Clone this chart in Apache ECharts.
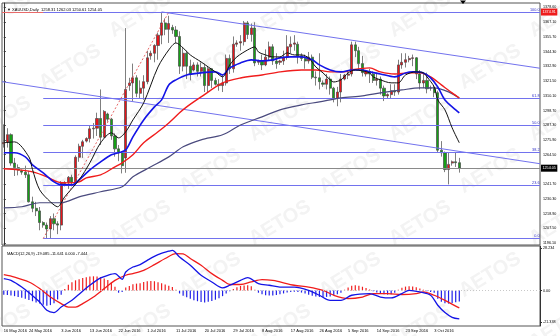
<!DOCTYPE html>
<html><head><meta charset="utf-8">
<script src="https://cdn.jsdelivr.net/npm/echarts@6/dist/echarts.min.js"></script>
<style>html,body{margin:0;padding:0;background:#fff}#c{width:560px;height:336px}</style>
</head><body><div id="c"></div>
<script>
// ---------- DATA ----------
// daily bars (incl. Sunday bars) from 16 May 2016 to 11 Oct 2016: [open, high, low, close]
const ohlc = [
[1273,1288,1270,1274],[1274,1285,1270,1280],[1280,1281,1256,1258],[1258,1262,1248,1254.5],[1254.5,1257,1248.5,1252.5],
[1252,1253,1249,1251],[1251,1256,1246.5,1249],[1249,1252,1227.5,1228],[1228,1232,1220,1223],[1223,1228,1217,1221],[1221,1224,1206,1212],
[1212,1213,1208,1210],[1210,1212,1199.6,1207],[1207,1217,1200,1215],[1215,1219,1206,1211],[1211,1213,1203,1210],[1210,1244,1206,1242.5],
[1242,1244,1240,1243],[1243,1248,1238,1247],[1247,1249,1240,1243],[1243,1264,1242,1262.5],[1262.5,1273,1259,1271],[1271,1276,1262,1274.5],
[1275,1278,1274,1277],[1277,1287,1274,1284.5],[1284.5,1289,1277,1285],[1285,1297,1279,1292.5],[1292.5,1315,1272,1278],[1278,1299,1278,1298],
[1296,1297,1290,1292],[1292,1293,1276,1279],[1279,1281,1263,1269],[1269,1272,1259.5,1266],[1266,1267,1250,1256],[1262,1362.5,1250.5,1315],
[1318,1324,1314,1320],[1320,1335,1306,1324],[1324,1326,1309,1312],[1312,1322,1308,1316],[1316,1326,1307,1321],[1321,1345,1319,1339.5],
[1341,1345,1338,1343],[1343,1350,1336,1349],[1349,1359,1338,1357],[1357,1374.9,1350,1366.5],[1366.5,1370,1357,1361.5],[1361.5,1372,1351,1366],
[1363,1365,1358,1361],[1361,1364,1351,1356],[1356,1360,1327,1333],[1333,1347,1329,1343],[1343,1345,1323,1333],[1333,1338,1322,1327],
[1330,1336,1329,1334],[1334,1336,1325,1329],[1329,1336,1325,1332],[1332,1335,1313,1318],[1318,1333,1313,1331],[1331,1331,1316,1322],
[1322,1324,1318,1319],[1319,1323,1314,1318],[1318,1327,1313,1320],[1320,1342,1318,1339],[1339,1342,1327,1331],[1331,1356,1328,1350],
[1350,1353,1348,1351],[1351,1357,1345,1352],[1352,1368,1349,1366.5],[1366.5,1368,1354,1357.5],[1357.5,1366,1352,1362.5],[1362.5,1367,1333,1335.5],
[1336,1338,1334,1337],[1337,1342,1330,1334],[1334,1346,1333,1340],[1340,1352,1337,1348],[1348,1350,1334,1337],[1337,1343,1331,1335],
[1336,1338,1334,1337],[1337,1345,1334,1340],[1340,1357,1338,1348],[1348,1356,1343,1350],[1350,1357,1345,1351],[1350,1352,1335,1341],
[1341,1343,1337,1339],[1339,1342,1331,1337],[1337,1344,1335,1340],[1340,1342,1323,1324.5],[1324.5,1329,1318,1324],[1324,1343,1315,1321],
[1320,1322,1317,1319],[1319,1327,1315,1323],[1323,1325,1311,1316],[1316,1317,1305,1308],[1308,1317,1302,1313],[1313,1327,1305,1323],
[1323,1327,1322,1326],[1326,1330,1323,1327],[1327,1352,1325,1349.5],[1349.5,1352,1340,1345],[1345,1348,1330,1335],[1335,1341,1325,1328],
[1327,1330,1325,1329],[1329,1331,1320,1327],[1327,1329,1320,1322],[1322,1328,1318,1323],[1323,1325,1311,1316],[1316,1318,1306,1310],
[1310,1312,1308,1311],[1311,1319,1308,1314],[1314,1319,1310,1313],[1313,1338,1311,1334],[1334,1343,1331,1336],[1336,1343,1332,1338],
[1338,1341,1336,1339],[1339,1342,1333,1339.5],[1339.5,1340,1323,1327],[1327,1330,1315,1320],[1320,1328,1316,1322],[1322,1328,1312,1315.5],
[1316,1318,1314,1316],[1316,1318,1309,1312.5],[1312.5,1314,1266,1268],[1268,1275,1263,1266],[1266,1267,1251,1253],[1253,1266,1241.5,1257],
[1258,1260,1256,1259],[1259,1266,1255,1258.3],[1258.31,1262.03,1250.61,1254.05]
];
// moving averages: [barIndex, price]
const maBlack = [[0,1273.7],[3,1274.4],[7,1262.8],[8,1253],[10,1237.3],[13,1228],[15,1224.2],[17,1231.9],[21,1245],[24,1258.2],[27,1273.7],[30,1281.4],[32,1277.5],[34,1282.2],[36,1291.4],[39,1304.6],[43,1332.4],[46,1345.6],[48,1351],[50,1347.1],[52,1341.7],[55,1336.3],[57,1332.4],[59,1328.6],[61,1324.7],[63,1334],[65,1340.2],[68,1345.6],[70,1347.9],[71,1344],[73,1341.7],[75,1340.2],[77,1340.2],[79,1343.3],[81,1341.7],[83,1341.7],[85,1339.4],[87,1332.4],[89,1327.8],[91,1322.4],[92,1320.8],[94,1322.4],[96,1327.8],[98,1330.1],[100,1329.3],[102,1327.8],[103,1324.7],[105,1322.4],[108,1320.1],[110,1320.1],[112,1326.2],[115,1328.6],[117,1327.8],[118,1324.7],[120,1317],[121,1306.9],[123,1299.2],[125,1285.3],[127,1273.7]];
const maBlue = [[0,1266],[3,1266],[6,1262.8],[8,1256.6],[11,1250.4],[14,1243.4],[16,1241.1],[19,1241.1],[21,1245],[24,1252.8],[27,1259],[30,1264.4],[32,1266],[34,1268.2],[36,1278.3],[39,1291.4],[42,1301.5],[44,1306.9],[46,1318.5],[48,1322.4],[51,1326.2],[55,1327.8],[59,1328.6],[61,1326.2],[63,1331.7],[66,1335.5],[69,1337.9],[72,1337.1],[75,1337.9],[77,1339.4],[80,1340.2],[83,1340.2],[86,1337.9],[88,1334],[91,1330.1],[94,1328.6],[97,1330.1],[100,1330.1],[102,1328.6],[105,1327],[109,1324.7],[112,1327.8],[114,1328.6],[117,1327.8],[119,1323.9],[121,1316.9],[123,1306.9],[126,1299.2],[127,1296.8]];
const maRed = [[0,1253.6],[4,1252.8],[8,1251.2],[12,1247.4],[15,1243.4],[18,1242.7],[21,1243.4],[23,1246.6],[27,1248.9],[31,1255.1],[33,1258.2],[36,1264.4],[39,1273.7],[43,1282.2],[46,1289.1],[49,1296.9],[51,1301.5],[55,1309.2],[61,1320.1],[66,1323.9],[72,1326.2],[77,1328.6],[83,1330.1],[87,1330.1],[91,1328.6],[95,1328.6],[97,1330.1],[102,1331.7],[105,1328.6],[109,1327],[113,1327.8],[116,1327.8],[119,1324.7],[122,1318.5],[125,1312.3],[127,1308.4]];
const maNavy = [[0,1223.4],[5,1224.2],[10,1227.3],[16,1227.3],[21,1231.9],[27,1235.8],[33,1239.7],[36,1247.4],[41,1255.1],[46,1262.8],[50,1270.6],[55,1276],[61,1279.9],[66,1287.5],[72,1293.8],[77,1299.2],[83,1303],[88,1305.4],[94,1308.5],[100,1310],[105,1312.3],[111,1314.6],[116,1316.2],[120,1316.2],[124,1313.1],[127,1308.4]];
// MACD(12,26,9)
const macdMain = [[0,8],[2,6.8],[5,2.3],[8,-3.5],[10,-7.7],[12,-13.3],[14,-14.8],[16,-11.1],[19,-6.6],[21,-2.5],[24,3.5],[27,8.4],[29,10.2],[31,11.3],[33,7.5],[34,12.4],[36,15.7],[38,17.3],[40,20.2],[43,24],[46,26.3],[47,26.9],[49,22.4],[52,16.9],[55,10.2],[58,5.7],[61,1.7],[63,3.5],[66,6.8],[68,8.6],[71,4.6],[74,3.5],[77,2.3],[81,2.3],[85,0.1],[88,-3.2],[91,-6.6],[94,-6.6],[97,-3.2],[102,-2.1],[105,-4.4],[108,-5],[111,-2.1],[113,0.1],[116,-1],[119,-3.2],[121,-9.9],[123,-14.8],[125,-18],[127,-19.085]];
const macdSignal = [[0,10.6],[3,9],[7,5.7],[10,1.3],[13,-4.4],[16,-8.8],[18,-11.1],[20,-11.1],[22,-8.8],[25,-4.4],[28,1.3],[31,6.8],[34,10.2],[36,11.3],[39,13.5],[42,17.3],[45,21.4],[48,24.7],[50,24.5],[52,21.4],[55,16.9],[58,11.3],[61,6.8],[63,4],[66,4],[69,5.7],[72,7.3],[75,6.8],[77,5.7],[81,3.5],[85,2.3],[89,0.1],[92,-3.2],[96,-5.4],[100,-4.4],[103,-2.1],[107,-2.1],[111,-2.7],[115,-2.1],[117,-1],[120,-3.2],[123,-6.6],[126,-10.5],[127,-11.641]];
const macdHist = [-2.9,-3,-3.3,-3.8,-4.3,-4.9,-5.6,-6.4,-7.2,-8,-8.8,-9.6,-10.2,-9.8,-8.6,-6,-2.8,
1,3.8,5.5,6.8,7.6,8.3,8.9,9.3,9.5,9.3,8.8,8,7,5.3,2.5,-1.5,-1,2,3,4.2,4.6,4.9,5.6,6.2,6.4,6.2,5.5,4.8,4,3.2,2.3,0.5,
-2,-3.5,-4.6,-5.6,-6.5,-7.2,-7.8,-8,-7.6,-7,-6.2,-5.2,-3.8,-2,-0.5,1,2.2,3,3.4,3.5,2.8,0.5,-1.5,-2.6,-3.2,-3.4,-3.3,-3,-2.6,-2,-1.4,-1,-0.9,-1,-1.4,-2,-2.8,-3.5,-4,-4.3,-4.4,-4.3,-4,-3.3,-2.5,-1.5,
0.5,2,3.2,3.5,3.2,2.5,1.6,0.6,-0.5,-1.3,-2,-2.6,-2.8,-2.6,-1.6,0.5,1.8,2.6,2.9,2.7,2.2,1.4,0.5,-0.5,-1,-1.6,-5.5,-7.6,-8.6,-8.8,-8.4,-7.9,-7.444];
// drawing objects
const fibLabels = ['0.0','23.6','38.2','50.0','61.8','100.0'];
const fibPrices = [1199.6,1241.0,1266.6,1287.3,1308.0,1374.9];
const fibStartBar = 11;
const fibDiagonal = [[11,1199.6],[46,1374.9]];
const channelUpper = [[44,1375],[149.5,1331.4]];
const channelLower = [[-0.5,1321],[149.5,1257.5]];
const lastPrice = 1254.05;
const highMark = 1374.91;
const priceTicks = [1378.6,1367.1,1355.7,1344.3,1332.9,1321.5,1310.1,1298.7,1287.3,1275.9,1264.5,1241.7,1230.3,1218.9,1207.5,1196.1];
const macdTicks = [28.234,0,-21.338];
const dateLabels = ['16 May 2016','24 May 2016','3 Jun 2016','13 Jun 2016','22 Jun 2016','1 Jul 2016','11 Jul 2016','20 Jul 2016','29 Jul 2016','8 Aug 2016','17 Aug 2016','26 Aug 2016','5 Sep 2016','14 Sep 2016','23 Sep 2016','3 Oct 2016'];
const titleText = '▼ XAUUSD,Daily  1258.31 1262.03 1250.61 1254.05';
const macdTitle = 'MACD(12,26,9) -19.085 -11.641 0.000 -7.444';

// ---------- BUILD ----------
const totalSlots = 150;
const months = ['Jan','Feb','Mar','Apr','May','Jun','Jul','Aug','Sep','Oct','Nov','Dec'];
const cats = [];
let d = new Date(Date.UTC(2016,4,16));
while (cats.length < ohlc.length) {
  if (d.getUTCDay() !== 6) cats.push(d.getUTCDate()+' '+months[d.getUTCMonth()]+' '+d.getUTCFullYear());
  d = new Date(d.getTime()+86400000);
}
for (let i = cats.length; i < totalSlots; i++) cats.push('pad'+i);

const FONT = 'Liberation Sans, Arial, sans-serif';
const fibColor = '#7272ee';

const overlay = [];
fibPrices.forEach((p,i)=>{
  overlay.push({coords:[[fibStartBar,p],[totalSlots-0.5,p]], lineStyle:{color:fibColor,width:1,type:'solid'},
    label:{show:true,position:'insideEndTop',formatter:fibLabels[i],color:'#3030c8',fontSize:3.8,distance:0.5}});
});
overlay.push({coords:fibDiagonal, lineStyle:{color:'#e04040',width:0.8,type:[2,2]}, label:{show:false}});
overlay.push({coords:channelUpper, lineStyle:{color:fibColor,width:1}, label:{show:false}});
overlay.push({coords:channelLower, lineStyle:{color:fibColor,width:1}, label:{show:false}});

// watermark tiles (decoration)
const graphics = [];
for (let r = 0; r < 7; r++) {
  for (let c = 0; c < 5; c++) {
    const x = 0 + c*140 + (r%2)*70;
    const y = 15 + r*52;
    graphics.push({type:'text', x:x, y:y, rotation:0.55, z:-1, silent:true,
      style:{text:'AETOS', fill:'#f3f3f3', font:'bold 20px '+FONT, textAlign:'center', textVerticalAlign:'middle'}});
  }
}
graphics.push({type:'polygon', shape:{points:[[460,0.5],[466,0.5],[463,4]]}, style:{fill:'#000'}, z:10});

const lineS = (data,color,w,z)=>({type:'line', xAxisIndex:0, yAxisIndex:0, data:data, showSymbol:false, smooth:0.3,
  lineStyle:{color:color,width:w}, z:z, silent:true});

const chart = echarts.init(document.getElementById('c'), null, {renderer:'canvas'});
chart.setOption({
  animation:false,
  backgroundColor:'#fff',
  textStyle:{fontFamily:FONT},
  title:[
    {text:titleText, left:2, top:3, textStyle:{fontSize:4,fontWeight:'normal',color:'#000',fontFamily:FONT}},
    {text:macdTitle, left:2, top:247, textStyle:{fontSize:4,fontWeight:'normal',color:'#000',fontFamily:FONT}}
  ],
  graphic:graphics,
  grid:[
    {left:2,right:20,top:3,height:242,show:true,borderColor:'#555',borderWidth:1,backgroundColor:'rgba(0,0,0,0)'},
    {left:2,right:20,top:246,height:80,show:true,borderColor:'#555',borderWidth:1,backgroundColor:'rgba(0,0,0,0)'}
  ],
  xAxis:[
    {type:'category',gridIndex:0,data:cats,boundaryGap:true,axisLine:{show:false},axisTick:{show:false},axisLabel:{show:false},splitLine:{show:false}},
    {type:'category',gridIndex:1,data:cats,boundaryGap:true,axisLine:{show:false},axisTick:{show:false},splitLine:{show:false},
      axisLabel:{show:true,interval:(i,v)=>dateLabels.indexOf(v)>=0,formatter:v=>v,fontSize:4,color:'#000',align:'left',margin:3,fontFamily:FONT}},
    {type:'value',gridIndex:0,min:-0.5,max:totalSlots-0.5,show:false}
  ],
  yAxis:[
    {type:'value',gridIndex:0,position:'right',min:1194.6,max:1381.9,splitLine:{show:false},
      axisLine:{show:true,lineStyle:{color:'#333',width:1}},
      axisTick:{show:true,customValues:priceTicks,length:2,lineStyle:{color:'#333'}},
      axisLabel:{customValues:priceTicks,formatter:v=>v.toFixed(2),fontSize:3.7,color:'#000',margin:3,fontFamily:FONT}},
    {type:'value',gridIndex:1,position:'right',min:-23.8,max:29.8,splitLine:{show:false},
      axisLine:{show:true,lineStyle:{color:'#333',width:1}},
      axisTick:{show:true,customValues:macdTicks,length:2,lineStyle:{color:'#333'}},
      axisLabel:{customValues:macdTicks,formatter:v=>(v===0?'0.00':String(v)),fontSize:3.7,color:'#000',margin:3,fontFamily:FONT}}
  ],
  series:[
    {type:'candlestick',xAxisIndex:0,yAxisIndex:0,barWidth:2.6,z:4,
      data:ohlc.map(b=>[b[0],b[3],b[2],b[1]]),
      itemStyle:{color:'#e8141a',color0:'#16a016',borderColor:'#474747',borderColor0:'#474747',borderWidth:0.7},
      markLine:{silent:true,symbol:['none','none'],animation:false,data:[
        {yAxis:lastPrice,lineStyle:{color:'#8a8a8a',width:1,type:'solid'},
          label:{show:true,position:'end',formatter:lastPrice.toFixed(2),backgroundColor:'#000',color:'#fff',fontSize:3.7,padding:[1.5,1.5],distance:1}},
        {yAxis:highMark,lineStyle:{color:'#e86a6a',width:1,type:'solid'},
          label:{show:true,position:'end',formatter:highMark.toFixed(2),backgroundColor:'#ee1c1c',color:'#fff',fontSize:3.7,padding:[1.5,1.5],distance:1}}
      ]}},
    {type:'lines',coordinateSystem:'cartesian2d',xAxisIndex:2,yAxisIndex:0,polyline:false,data:overlay,z:5,zlevel:0,silent:true,
      lineStyle:{color:fibColor,width:1,opacity:1}},
    lineS(maNavy,'#4a4a7e',1.2,6),
    lineS(maRed,'#f01c1c',1.4,7),
    lineS(maBlue,'#1414e6',1.6,8),
    lineS(maBlack,'#111',1,9),
    {type:'bar',xAxisIndex:1,yAxisIndex:1,data:macdHist,barWidth:1.2,z:3,silent:true,
      itemStyle:{color:p=>p.value>=0?'#f02020':'#2020e8'},
      markLine:{silent:true,symbol:['none','none'],data:[{yAxis:0}],label:{show:false},lineStyle:{color:'#c8c8c8',width:1,type:[1,2]}}},
    {type:'line',xAxisIndex:1,yAxisIndex:1,data:macdSignal,showSymbol:false,smooth:0.3,lineStyle:{color:'#f01c1c',width:1.3},z:4,silent:true},
    {type:'line',xAxisIndex:1,yAxisIndex:1,data:macdMain,showSymbol:false,smooth:0.3,lineStyle:{color:'#1414e6',width:1.3},z:5,silent:true}
  ]
});
</script></body></html>
